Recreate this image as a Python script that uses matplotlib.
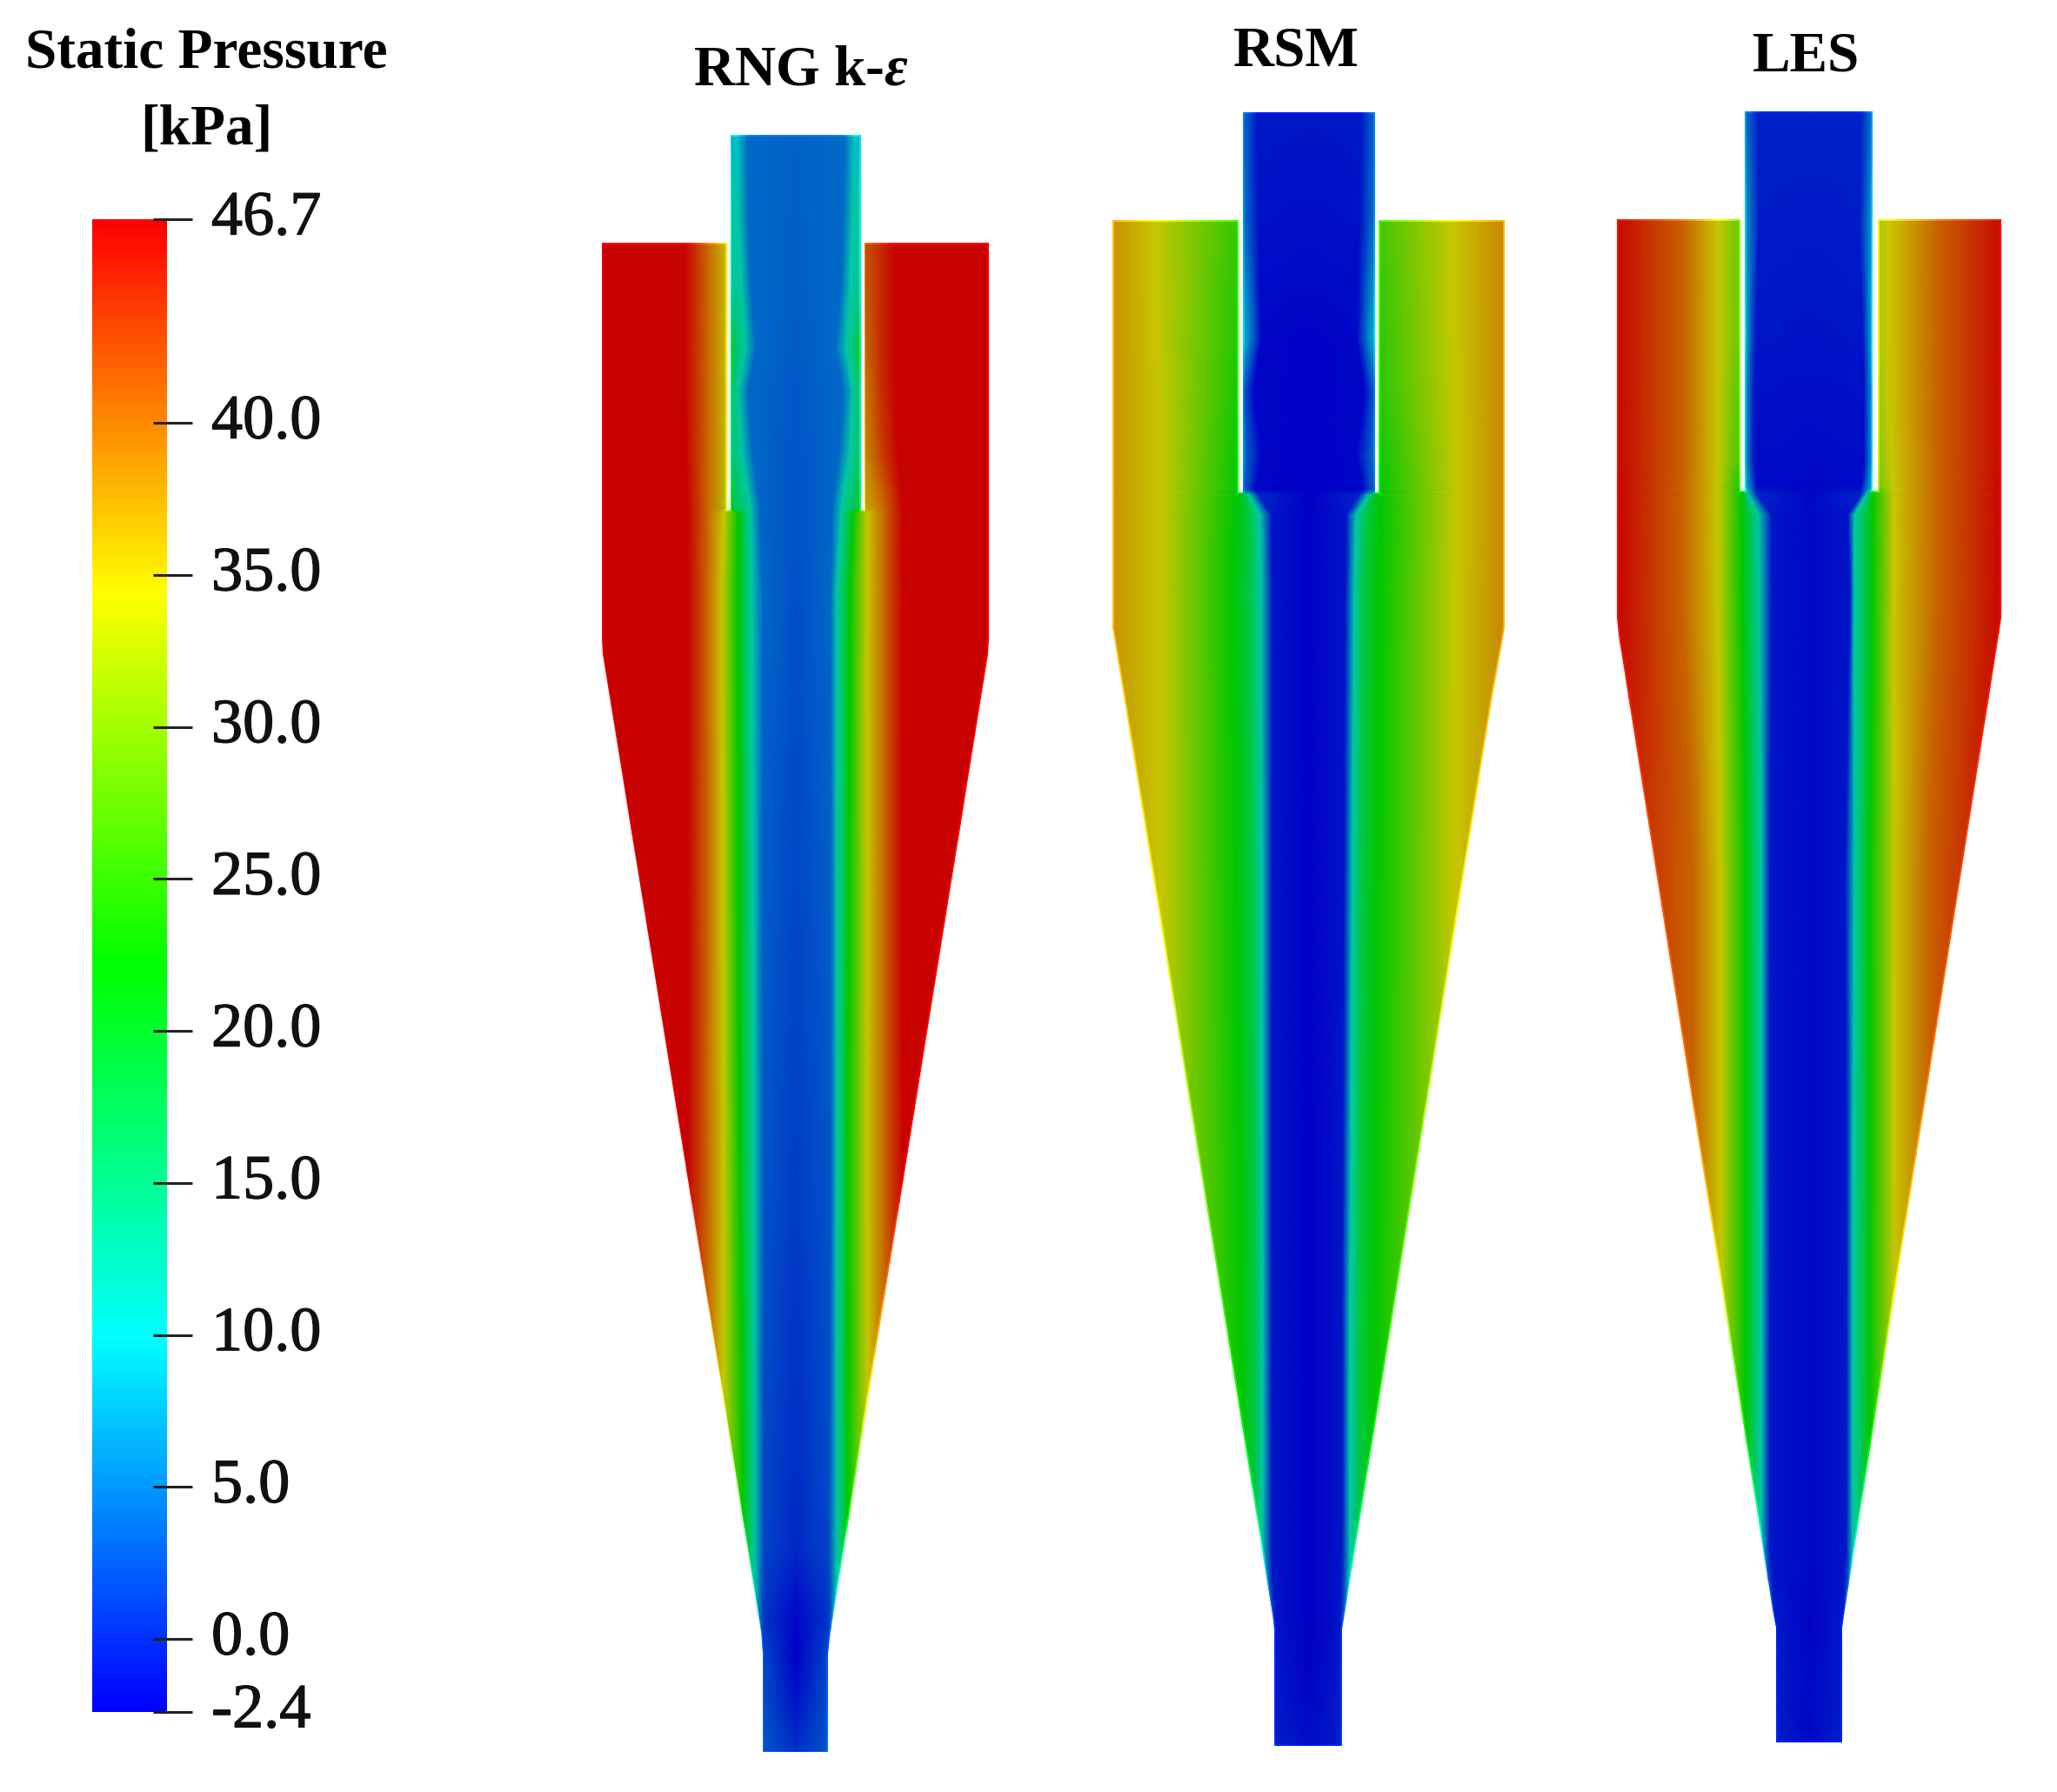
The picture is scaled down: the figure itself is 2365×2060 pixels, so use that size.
import numpy as np
import matplotlib
matplotlib.use("Agg")
import matplotlib.pyplot as plt
import matplotlib.patheffects as pe
from matplotlib.colors import LinearSegmentedColormap
from matplotlib.patches import Polygon

W, H = 2365, 2060

# colour bar
p_min, p_max = -2.4, 46.7
tick_values = [46.7, 40.0, 35.0, 30.0, 25.0, 20.0, 15.0, 10.0, 5.0, 0.0, -2.4]
tick_labels = ["46.7", "40.0", "35.0", "30.0", "25.0", "20.0", "15.0", "10.0", "5.0", "0.0", "-2.4"]
titles = ["RNG k-$ε$", "RSM", "LES"]

# cyclone outlines, walked from the top of the outlet pipe round to the other side
rng_out_x = [840, 840, 836, 836, 692, 692, 693, 875, 877, 877, 952, 952, 955, 1136, 1137, 1137, 994, 994, 990, 990]
rng_out_y = [155, 586, 586, 279, 279, 735, 752, 1875, 1900, 2014, 2014, 1900, 1875, 752, 735, 279, 279, 586, 586, 155]
rsm_out_x = [1429, 1429, 1424, 1424, 1279, 1279, 1292, 1463, 1465, 1465, 1543, 1543, 1546, 1716, 1730, 1730, 1585, 1585, 1581, 1581]
rsm_out_y = [129, 566, 566, 253, 253, 722, 800, 1855, 1873, 2007, 2007, 1873, 1855, 800, 722, 253, 253, 566, 566, 129]
les_out_x = [2006, 2006, 2001, 2001, 1859, 1859, 1861, 2038, 2042, 2042, 2118, 2118, 2121, 2298, 2301, 2301, 2159, 2159, 2153, 2153]
les_out_y = [128, 564, 564, 252, 252, 710, 730, 1850, 1870, 2003, 2003, 1870, 1850, 730, 710, 252, 252, 564, 564, 128]

inset_sx = [1, 1, -1, -1, 1, 1, 1, 1, 1, 1, -1, -1, -1, -1, -1, -1, 1, 1, -1, -1]
inset_sy = [1, 1, 1, 1, 1, 0, 0, 0, 0, -1, -1, 0, 0, 0, 0, 1, 1, 1, 1, 1]

# pressure read across each cyclone: height, offsets from the axis, kPa
rng_y = [150, 240, 330, 400, 450, 520, 584, 590, 680, 1300, 1780, 1860, 1900, 1960, 2020]
rng_dx = [
    [-240, -128, -102, -79, -76, -68, -56, 0, 56, 68, 76, 79, 97, 115, 240],
    [-240, -128, -102, -79, -76, -66, -55, 0, 55, 66, 76, 79, 97, 115, 240],
    [-240, -128, -102, -79, -76, -62, -52, 0, 52, 62, 76, 79, 97, 115, 240],
    [-240, -128, -102, -79, -76, -58, -46, 0, 46, 58, 76, 79, 97, 115, 240],
    [-240, -128, -102, -79, -76, -66, -55, 0, 55, 66, 76, 79, 97, 115, 240],
    [-240, -127, -102, -79, -76, -62, -50, 0, 50, 62, 76, 79, 99, 118, 240],
    [-240, -125, -102, -79, -76, -52, -42, 0, 42, 52, 76, 79, 102, 123, 240],
    [-240, -125, -102, -83, -66, -52, -42, 0, 42, 52, 66, 82, 102, 123, 240],
    [-240, -125, -102, -85, -67, -50, -38, 0, 40, 47, 62, 82, 102, 123, 240],
    [-240, -125, -102, -83, -65, -48, -37, 0, 40, 47, 60, 82, 102, 123, 240],
    [-240, -125, -102, -83, -60, -47, -37, 0, 38, 47, 60, 82, 102, 123, 240],
    [-240, -125, -102, -83, -60, -47, -37, 0, 38, 47, 60, 82, 102, 123, 240],
    [-240, -125, -102, -83, -60, -47, -37, 0, 37, 47, 60, 82, 102, 123, 240],
    [-240, -125, -102, -83, -60, -47, -37, 0, 37, 47, 60, 82, 102, 123, 240],
    [-240, -125, -102, -83, -60, -47, -37, 0, 37, 47, 60, 82, 102, 123, 240],
]
rng_p = [
    [46.7, 46.7, 40.5, 35, 8, 10, 4.2, 3.6, 4.2, 10, 8, 42, 44, 46.7, 46.7],
    [46.7, 46.7, 40.5, 35, 11.7, 11.7, 4.2, 3.5, 4.2, 11.7, 11.7, 42, 44, 46.7, 46.7],
    [46.7, 46.7, 40.5, 35, 13, 12, 4.2, 3.4, 4.2, 12, 13, 41, 44, 46.7, 46.7],
    [46.7, 46.7, 40.5, 35, 19, 12, 4.2, 3.2, 4.2, 12, 19, 40, 44, 46.7, 46.7],
    [46.7, 46.7, 40.5, 35, 17, 12, 4.2, 3, 4.2, 12, 17, 39, 43.5, 46.7, 46.7],
    [46.7, 46.7, 40.5, 35, 16, 12, 4.2, 2.8, 4.2, 12, 16, 38, 43, 46.7, 46.7],
    [46.7, 46.7, 40.5, 33, 20, 12, 4, 2.7, 4, 12, 20, 36, 40.5, 46.7, 46.7],
    [46.7, 46.7, 40.5, 34.4, 22.1, 11.7, 4, 2.7, 4, 11.7, 22.1, 34.4, 40.5, 46.7, 46.7],
    [46.7, 46.7, 40.5, 34.4, 22.1, 11.7, 4, 2.5, 4, 11.7, 22.1, 34.4, 40.5, 46.7, 46.7],
    [46.7, 46.7, 40.5, 34.4, 22.1, 11.7, 3, 1.5, 3, 11.7, 22.1, 34.4, 40.5, 46.7, 46.7],
    [46.7, 46.7, 40.5, 34.4, 22.1, 11.7, 2, 0, 2, 11.7, 22.1, 34.4, 40.5, 46.7, 46.7],
    [46.7, 46.7, 40.5, 34.4, 22.1, 11.7, 1, -2, 1, 11.7, 22.1, 34.4, 40.5, 46.7, 46.7],
    [46.7, 46.7, 40.5, 34.4, 22.1, 11.7, 2, -2.4, 2, 11.7, 22.1, 34.4, 40.5, 46.7, 46.7],
    [46.7, 46.7, 40.5, 34.4, 22.1, 11.7, 2.5, -1.2, 2.5, 11.7, 22.1, 34.4, 40.5, 46.7, 46.7],
    [46.7, 46.7, 40.5, 34.4, 22.1, 11.7, 3, 0.7, 3, 11.7, 22.1, 34.4, 40.5, 46.7, 46.7],
]

rsm_y = [125, 255, 390, 450, 524, 563, 569, 592, 680, 1500, 1783, 1873, 1940, 2012]
rsm_dx = [
    [-240, -215, -177, -81, -76, -70, -60, 0, 60, 70, 76, 80, 165, 220, 240],
    [-240, -215, -177, -81, -76, -70, -58, 0, 58, 70, 76, 80, 165, 220, 240],
    [-240, -215, -175, -81, -76, -68, -55, 0, 55, 68, 76, 80, 167, 220, 240],
    [-240, -215, -172, -81, -76, -72, -64, 0, 64, 72, 76, 80, 168, 220, 240],
    [-240, -215, -170, -81, -76, -70, -55, 0, 55, 70, 76, 80, 170, 220, 240],
    [-240, -215, -170, -81, -76, -70, -62, 0, 62, 70, 76, 80, 170, 220, 240],
    [-240, -215, -170, -84, -76, -68, -58, 0, 58, 68, 76, 80, 170, 220, 240],
    [-240, -215, -170, -86, -68, -56, -43, 0, 43, 54, 66, 82, 170, 220, 240],
    [-240, -215, -170, -88, -68, -55, -42, 0, 42, 52, 62, 80, 168, 220, 240],
    [-240, -215, -170, -78, -62, -53, -43, 0, 38, 47, 58, 75, 168, 220, 240],
    [-240, -215, -170, -78, -62, -53, -43, 0, 38, 47, 58, 75, 168, 220, 240],
    [-240, -215, -170, -78, -62, -53, -38, 0, 36, 47, 58, 75, 168, 220, 240],
    [-240, -215, -170, -78, -62, -53, -38, 0, 36, 47, 58, 75, 168, 220, 240],
    [-240, -215, -170, -78, -62, -53, -38, 0, 36, 47, 58, 75, 168, 220, 240],
]
rsm_p = [
    [38, 37, 34.4, 26, 4, 2.5, -0.8, -1, -0.8, 2.5, 4, 27, 34.4, 38, 38],
    [38, 37, 34.4, 25, 5, 3, -1.3, -1.5, -1.3, 3, 5, 26, 34.4, 38, 38],
    [38, 37, 34.4, 24, 9, 6, -2, -2.3, -2, 6, 9, 25, 34.4, 38, 38],
    [38, 37, 34.4, 23.5, 3.5, 2, -2, -2.3, -2, 2, 3.5, 24.5, 34.4, 38, 38],
    [38, 37, 34.4, 22.5, 5.5, 3, -2, -2.4, -2, 3, 5.5, 23, 34.4, 38, 38],
    [38, 37, 34.4, 21.8, 3, 2, -2, -2.4, -2, 2, 3, 21.9, 34.4, 38, 38],
    [38, 37, 34.4, 22.1, 20, 11.7, 0, -2.4, 0, 11.7, 20, 22.1, 34.4, 38, 38],
    [38, 37, 34.4, 22.1, 18, 11.7, -1, -2.4, -1, 11.7, 18, 22.1, 34.4, 38, 38],
    [38, 37, 34.4, 22.1, 18, 11.7, -1, -2.4, -1, 11.7, 18, 22.1, 34.4, 38, 38],
    [38, 37, 34.4, 22.1, 18, 11.7, -1, -2.4, -1, 11.7, 18, 22.1, 34.4, 38, 38],
    [38, 37, 34.4, 22.1, 18, 11.7, -1, -2.4, -1, 11.7, 18, 22.1, 34.4, 38, 38],
    [38, 37, 34.4, 22.1, 18, 11.7, -1, -2.4, -1, 11.7, 18, 22.1, 34.4, 38, 38],
    [38, 37, 34.4, 22.1, 18, 11.7, -0.8, -2.2, -0.8, 11.7, 18, 22.1, 34.4, 38, 38],
    [38, 37, 34.4, 22.1, 18, 11.7, -0.5, -1.5, -0.5, 11.7, 18, 22.1, 34.4, 38, 38],
]

les_y = [123, 255, 390, 450, 530, 560, 568, 592, 680, 1000, 1500, 1783, 1870, 1940, 2008]
les_dx = [
    [-240, -210, -143, -105, -79, -74, -60, 0, 60, 73, 79, 92, 147, 213, 240],
    [-240, -210, -143, -105, -79, -74, -58, 0, 58, 73, 79, 92, 147, 213, 240],
    [-240, -210, -143, -105, -79, -74, -62, 0, 62, 73, 79, 92, 147, 213, 240],
    [-240, -210, -143, -105, -79, -74, -63, 0, 63, 73, 79, 92, 147, 213, 240],
    [-240, -210, -143, -105, -79, -74, -63, 0, 63, 73, 79, 95, 147, 213, 240],
    [-240, -215, -145, -105, -79, -74, -60, 0, 60, 73, 79, 97, 147, 217, 240],
    [-240, -215, -145, -105, -77, -70, -60, 0, 60, 66, 73, 97, 147, 217, 240],
    [-240, -215, -145, -105, -77, -58, -43, 0, 45, 52, 73, 97, 147, 217, 240],
    [-240, -215, -145, -105, -77, -57, -43, 0, 47, 52, 73, 97, 147, 217, 240],
    [-240, -195, -133, -102, -73, -55, -45, 0, 42, 52, 70, 98, 137, 190, 240],
    [-240, -195, -133, -102, -73, -55, -45, 0, 43, 50, 70, 98, 137, 190, 240],
    [-240, -195, -133, -102, -73, -55, -45, 0, 43, 50, 70, 98, 137, 190, 240],
    [-240, -195, -133, -102, -73, -55, -38, 0, 38, 50, 70, 98, 137, 190, 240],
    [-240, -195, -133, -102, -73, -55, -38, 0, 38, 50, 70, 98, 137, 190, 240],
    [-240, -195, -133, -102, -73, -55, -38, 0, 38, 50, 70, 98, 137, 190, 240],
]
les_p = [
    [47, 45.5, 40.5, 34.4, 28, 5, -0.2, -0.3, -0.2, 5, 33, 34.4, 40.5, 45.5, 47],
    [47, 45.5, 40.5, 34.4, 28, 8, -0.6, -0.8, -0.6, 8, 33, 34.4, 40.5, 45.5, 47],
    [47, 45.5, 40.5, 34.4, 28, 9.5, -1, -1.2, -1, 9.5, 33, 34.4, 40.5, 45.5, 47],
    [47, 45.5, 40.5, 34.4, 27, 8, -1.3, -1.5, -1.3, 8, 32, 34.4, 40.5, 45.5, 47],
    [47, 45.5, 40.5, 34.4, 26, 8, -1.6, -1.8, -1.6, 8, 30.5, 34.4, 40.5, 45.5, 47],
    [47, 46, 40.5, 34.4, 23, 10, -1.8, -2, -1.8, 10, 29, 34.4, 40.5, 46, 47],
    [47, 46, 40.5, 34.4, 22.1, 11.7, 0, -2, 0, 11.7, 22.1, 34.4, 40.5, 46, 47],
    [47, 46, 40.5, 34.4, 22.1, 11.7, -1, -2, -1, 11.7, 22.1, 34.4, 40.5, 46, 47],
    [47, 46, 40.5, 34.4, 22.1, 11.7, -1, -2, -1, 11.7, 22.1, 34.4, 40.5, 46, 47],
    [47, 44, 40.5, 34.4, 22.1, 11.7, -1, -2, -1, 11.7, 22.1, 34.4, 40.5, 44.5, 47],
    [47, 44, 40.5, 34.4, 22.1, 11.7, -1, -2, -1, 11.7, 22.1, 34.4, 40.5, 44.5, 47],
    [47, 44, 40.5, 34.4, 22.1, 11.7, -1, -2, -1, 11.7, 22.1, 34.4, 40.5, 44.5, 47],
    [47, 44, 40.5, 34.4, 22.1, 11.7, -0.8, -2.2, -0.8, 11.7, 22.1, 34.4, 40.5, 44.5, 47],
    [47, 44, 40.5, 34.4, 22.1, 11.7, -0.7, -2, -0.7, 11.7, 22.1, 34.4, 40.5, 44.5, 47],
    [47, 44, 40.5, 34.4, 22.1, 11.7, -0.5, -1.8, -0.5, 11.7, 22.1, 34.4, 40.5, 44.5, 47],
]

plt.rcParams["font.family"] = "Liberation Serif"
plt.rcParams["mathtext.fontset"] = "custom"
plt.rcParams["mathtext.it"] = "Liberation Serif:italic:bold"
plt.rcParams["mathtext.rm"] = "Liberation Serif:bold"

ramp = ["#0000ff", "#00ffff", "#00ff00", "#ffff00", "#ff0000"]
bright = LinearSegmentedColormap.from_list("bright", ramp, N=512)
# the cut plane in the render is lit, so the inside is darker than the bar
shade = 0.78
dark = LinearSegmentedColormap.from_list(
    "dark", [tuple(shade * c for c in matplotlib.colors.to_rgb(h)) for h in ramp], N=512)


def cyclone(ax, cx, ys, dx, p, out_x, out_y, inset):
    xx = cx + np.array(dx, dtype=float)
    yy = np.repeat(np.array(ys, dtype=float)[:, None], xx.shape[1], axis=1)
    pp = np.array(p, dtype=float)
    outer = np.column_stack([out_x, out_y]).astype(float)
    inner = outer + inset * np.column_stack([inset_sx, inset_sy])
    for cmap, pts in [(bright, outer), (dark, inner)]:
        mesh = ax.pcolormesh(xx, yy, pp, shading="gouraud", cmap=cmap, vmin=p_min, vmax=p_max)
        mesh.set_clip_path(Polygon(pts, closed=True, transform=ax.transData))


fig = plt.figure(figsize=(W / 100, H / 100), dpi=100)
ax = fig.add_axes([0, 0, 1, 1])

cyclone(ax, 915, rng_y, rng_dx, rng_p, rng_out_x, rng_out_y, 1.5)
cyclone(ax, 1505, rsm_y, rsm_dx, rsm_p, rsm_out_x, rsm_out_y, 2)
cyclone(ax, 2080, les_y, les_dx, les_p, les_out_x, les_out_y, 2)

ax.set_xlim(0, W)
ax.set_ylim(H, 0)
ax.axis("off")

ax.text(237, 62, "Static Pressure", ha="center", va="center", fontsize=47, fontweight="bold")
ax.text(237, 149, "[kPa]", ha="center", va="center", fontsize=47, fontweight="bold")
ax.text(921, 82, titles[0], ha="center", va="center", fontsize=47, fontweight="bold")
ax.text(1490, 60, titles[1], ha="center", va="center", fontsize=47, fontweight="bold")
ax.text(2077, 66, titles[2], ha="center", va="center", fontsize=47, fontweight="bold")

# colour bar, its axes runs out to the end of the ticks
bar_left, bar_right, bar_top, bar_bottom = 106, 222, 252, 1968
cax = fig.add_axes([bar_left / W, 1 - bar_bottom / H, (bar_right - bar_left) / W, (bar_bottom - bar_top) / H])
grad = np.linspace(p_max, p_min, 512)[:, None]
cax.imshow(grad, cmap=bright, vmin=p_min, vmax=p_max, aspect="auto", extent=(106, 191, p_min, p_max))
cax.set_xlim(bar_left, bar_right)
cax.set_ylim(p_min, p_max)
cax.axis("off")
cax.hlines(tick_values, 176, 221, colors="#222222", lw=2.2, clip_on=False)
for val, lab in zip(tick_values, tick_labels):
    cax.annotate(lab, (243, val), xytext=(0, 0), textcoords="offset points", ha="left", va="center",
                 fontsize=52, color="#111111", annotation_clip=False,
                 path_effects=[pe.withStroke(linewidth=0.9, foreground="#111111")])

fig.savefig("out.png", dpi=100)
